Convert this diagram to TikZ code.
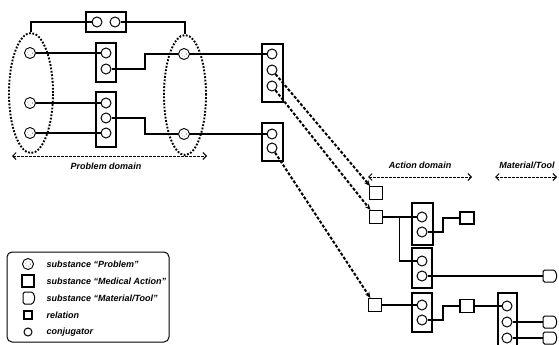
\documentclass[tikz,border=0pt]{standalone}
\usepackage{fontspec}
\setmainfont{Liberation Sans}
\usetikzlibrary{arrows.meta,shapes,positioning,calc}

\begin{document}
\begin{tikzpicture}[x=1pt,y=-1pt,
  lbl/.style={font=\fontsize{9}{11}\selectfont\bfseries\itshape},
  conj/.style={circle,draw,line width=1pt,minimum size=10pt,inner sep=0pt,fill=white},
  prob/.style={circle,draw,line width=0.9pt,minimum size=11pt,inner sep=0pt,fill=white,
    path picture={\draw[dotted,line width=0.4pt] (path picture bounding box.center) circle (2.5pt);}},
  cbox/.style={rectangle,draw,line width=1.1pt,inner sep=0pt,fill=white},
  rel/.style={rectangle,draw,line width=1.1pt,minimum size=13pt,inner sep=0pt,fill=white},
  act/.style={rectangle,draw,line width=1.1pt,minimum width=14pt,minimum height=12pt,inner sep=0pt,fill=white},
  tool/.style={signal,signal to=east,signal pointer angle=140,rounded corners=1.5pt,draw,line width=1pt,minimum width=14pt,minimum height=12pt,inner sep=0pt,fill=white},
  wire/.style={line width=1.1pt},
  link/.style={line width=2pt,dash pattern=on 3pt off 1.8pt,-{Stealth[length=6pt,width=5pt]}},
  domarrow/.style={line width=0.9pt,dash pattern=on 2.5pt off 1.5pt,{Straight Barb[length=3.5pt,width=7pt]}-{Straight Barb[length=3.5pt,width=7pt]}},
  zone/.style={ellipse,draw,line width=1.9pt,dash pattern=on 1.8pt off 1.6pt,inner sep=0pt}
]
\useasboundingbox (0,0) rectangle (559,345);

% Problem domain
\node[zone,minimum width=44pt,minimum height=120pt] (lzone) at (31,93) {};
\node[zone,minimum width=42pt,minimum height=120pt] (rzone) at (185,95) {};
\node[prob] (p1) at (30,53) {};
\node[prob] (p2) at (30,103) {};
\node[prob] (p3) at (30,133) {};
\node[prob] (q1) at (184,54) {};
\node[prob] (q2) at (184,134) {};

% Conjugator boxes
\node[cbox,minimum width=40pt,minimum height=20pt] (boxt) at (106,22) {};
\node[conj] (t1) at (97,22) {};
\node[conj] (t2) at (115,22) {};
\node[cbox,minimum width=20pt,minimum height=39pt] (boxa) at (106,62.5) {};
\node[conj] (a1) at (106,53) {};
\node[conj] (a2) at (106,69) {};
\node[cbox,minimum width=20pt,minimum height=55pt] (boxb) at (106,119.5) {};
\node[conj] (b1) at (106,103) {};
\node[conj] (b2) at (106,118) {};
\node[conj] (b3) at (106,133) {};
\node[cbox,minimum width=21pt,minimum height=58pt] (boxc) at (272.5,73) {};
\node[conj] (c1) at (272,54) {};
\node[conj] (c2) at (272,70) {};
\node[conj] (c3) at (272,86) {};
\node[cbox,minimum width=21pt,minimum height=38pt] (boxd) at (272.5,142) {};
\node[conj] (d1) at (272,134) {};
\node[conj] (d2) at (272,148) {};

\draw[wire] (t1) -| (lzone);
\draw[wire] (t2) -| (rzone);
\draw[wire] (p1) -- (a1);
\draw[wire] (p2) -- (b1);
\draw[wire] (p3) -- (b3);
\draw[wire] (a2) -- ++(39,0) |- (q1);
\draw[wire] (b2) -- ++(39,0) |- (q2);
\draw[wire] (q1) -- (c1);
\draw[wire] (q2) -- (d1);

% Action domain
\node[rel] (r1) at (376,193) {};
\node[rel] (r2) at (376,217) {};
\node[rel] (r3) at (375,305) {};
\draw[link] (c2) -- (r1);
\draw[link] (c3) -- (r2);
\draw[link] (d2) -- (r3);

\node[cbox,minimum width=21pt,minimum height=42pt] (boxe) at (422.5,224) {};
\node[conj] (e1) at (422,217) {};
\node[conj] (e2) at (422,232) {};
\node[cbox,minimum width=20pt,minimum height=40pt] (boxf) at (422,268) {};
\node[conj] (f1) at (422,261) {};
\node[conj] (f2) at (422,276) {};
\node[cbox,minimum width=20pt,minimum height=39pt] (boxg) at (422,312.5) {};
\node[conj] (g1) at (422,305) {};
\node[conj] (g2) at (422,320) {};
\node[cbox,minimum width=19pt,minimum height=57pt] (boxi) at (507.5,321.5) {};
\node[conj] (i1) at (507,306) {};
\node[conj] (i2) at (507,322) {};
\node[conj] (i3) at (507,338) {};

\node[act] (m1) at (467,218) {};
\node[rel,minimum width=14pt] (h1) at (467,306) {};
\node[tool] (tl1) at (549,276) {};
\node[tool] (tl2) at (549,322) {};
\node[tool] (tl3) at (549,338) {};

\draw[wire] (r2) -- (e1);
\draw[wire] ($(r2.east)!0.5!(e1.west)$) |- (f1);
\draw[wire] (e2) -- ++(21,0) |- (m1);
\draw[wire] (f2) -- (tl1);
\draw[wire] (r3) -- (g1);
\draw[wire] (g2) -- ++(21,0) |- (h1);
\draw[wire] (h1) -- (i1);
\draw[wire] (i2) -- (tl2);
\draw[wire] (i3) -- (tl3);

% Domain labels
\coordinate (pda) at (12,156);
\coordinate (pdb) at (207,156);
\coordinate (ada) at (368,177);
\coordinate (adb) at (472,177);
\coordinate (mda) at (495,177);
\coordinate (mdb) at (557,177);
\draw[domarrow] (pda) -- (pdb);
\draw[domarrow] (ada) -- (adb);
\draw[domarrow] (mda) -- (mdb);
\node[lbl] (pdl) at (106,166) {Problem domain};
\node[lbl] (adl) at (420,165) {Action domain};
\node[lbl] (mdl) at (527,165) {Material/Tool};

% Legend
\node[draw,rounded corners=5pt,line width=1pt,minimum width=162pt,minimum height=90pt] (legend) at (88,297) {};
\node[prob] (k1) at (28,264) {};
\node[act,minimum width=12pt] (k2) at (28,281) {};
\node[tool,minimum width=12pt] (k3) at (28,298) {};
\node[rel,minimum size=8pt] (k4) at (28,315) {};
\node[conj,minimum size=8pt] (k5) at (28,332) {};
\node[lbl,anchor=west] (k1t) at (43,264) {substance ``Problem''};
\node[lbl,anchor=west] (k2t) at (43,281) {substance ``Medical Action''};
\node[lbl,anchor=west] (k3t) at (43,298) {substance ``Material/Tool''};
\node[lbl,anchor=west] (k4t) at (43,315) {relation};
\node[lbl,anchor=west] (k5t) at (43,332) {conjugator};
\end{tikzpicture}
\end{document}
